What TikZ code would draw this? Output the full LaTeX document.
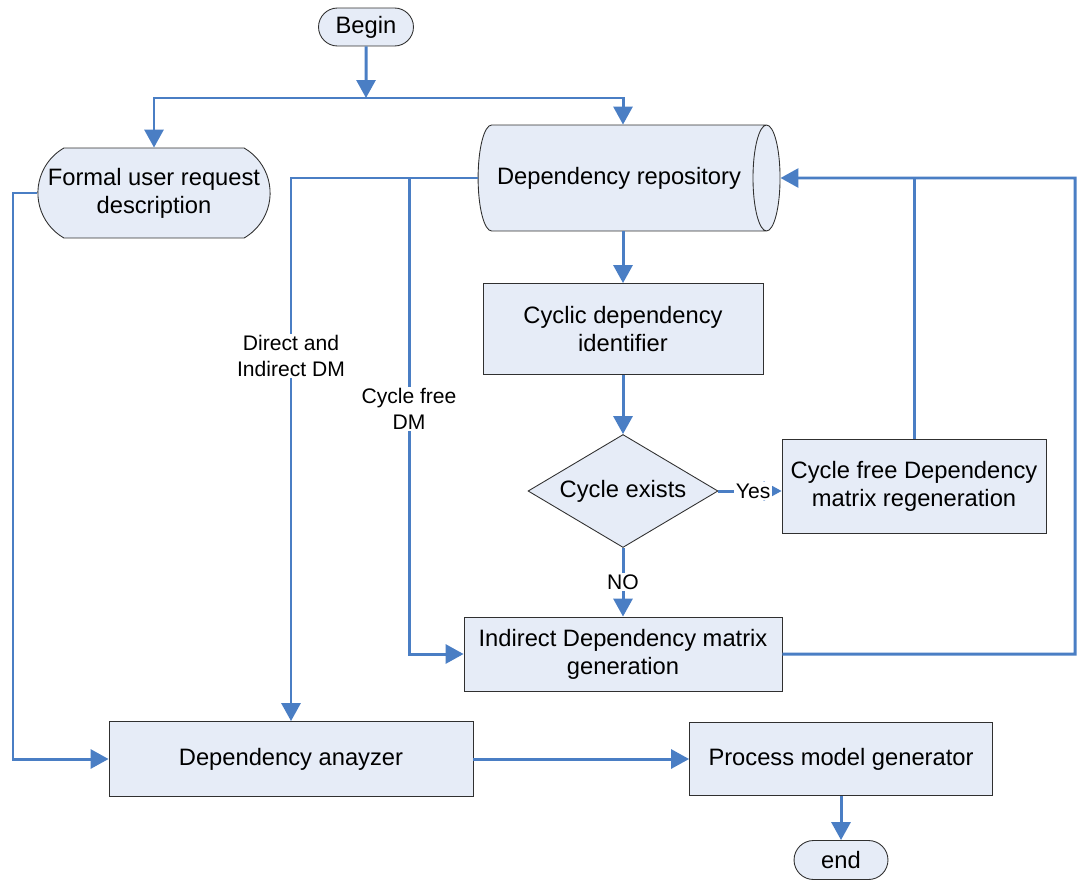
\documentclass[tikz,border=0pt]{standalone}
\usepackage{fontspec}
\setmainfont{Liberation Sans}
\usepackage{tikz}
\usetikzlibrary{arrows.meta,shapes.geometric,shapes.misc,positioning}
\definecolor{flowBlue}{HTML}{4A7EC4}
\definecolor{boxFill}{HTML}{E6ECF7}
\definecolor{boxLine}{HTML}{303030}

\begin{document}
\begin{tikzpicture}[
  x=0.02cm, y=-0.02cm,
  every node/.style={font=\fontsize{13.5}{16}\selectfont, align=center},
  proc/.style={draw=boxLine, fill=boxFill, line width=0.5pt, inner sep=2pt},
  term/.style={draw=boxLine, fill=boxFill, line width=0.5pt, rounded rectangle, inner sep=2pt},
  store/.style={draw=boxLine, fill=boxFill, line width=0.5pt, cylinder, aspect=0.8,
                minimum width=2.12cm, minimum height=6.04cm},
  decision/.style={draw=boxLine, fill=boxFill, line width=0.5pt, diamond, aspect=1.7,
                   inner sep=0pt, minimum width=3.8cm, minimum height=2.26cm},
  flow/.style={-{Triangle[length=3.6mm, width=3.8mm]}, flowBlue, line width=1.7pt},
  link/.style={flowBlue, line width=1.7pt},
  lbl/.style={fill=white, text=black, inner sep=1pt, font=\fontsize{12}{14.5}\selectfont},
]
\useasboundingbox (0,0) rectangle (1077,879);

% Nodes
\node[term, minimum width=2.04cm, minimum height=0.76cm] (start) at (366,27) {Begin};
\node[term, rounded rectangle arc length=120, minimum width=4.56cm, minimum height=1.8cm] (formal) at (154,193) {Formal user request\\description};
\node[store] (repo) at (619,178) {Dependency repository};
\node[proc, minimum width=5.6cm, minimum height=1.82cm] (cycid) at (623,329) {Cyclic dependency\\identifier};
\node[decision] (cyc) at (623,491) {Cycle exists};
\node[proc, minimum width=5.28cm, minimum height=1.88cm] (regen) at (914,486) {Cycle free Dependency\\matrix regeneration};
\node[proc, minimum width=6.36cm, minimum height=1.48cm] (indir) at (623,654) {Indirect Dependency matrix\\generation};
\node[proc, minimum width=7.28cm, minimum height=1.5cm] (anal) at (291,759) {Dependency anayzer};
\node[proc, minimum width=6.06cm, minimum height=1.46cm] (pmg) at (841,759) {Process model generator};
\node[term, minimum width=2.02cm, minimum height=0.78cm] (finish) at (841,860) {end};

% Bends
\coordinate (split) at (366,98);
\coordinate (cfbend) at (409,654);
\coordinate (lloop) at (13,480);
\coordinate (rloop) at (1075,178);

% Flows
\draw[flow] (start) -- (split);
\draw[flow] (split) -| (cycid.north |- repo.north);
\draw[flow] (split) -| (formal.north);
\draw[flow] (repo.south -| cycid.north) -- (cycid.north);
\draw[flow] (cycid.south) -- (cyc.north);
\draw[flow] (cyc.east) -- (cyc.east -| regen.west)
  node[lbl, pos=0.55] {Yes};
\draw[flow] (cyc.south) -- (indir.north)
  node[lbl, midway] {NO};
\draw[link] (regen.north) -- (regen.north |- repo.east);
\draw[flow] (indir.east) -| (rloop) -- (repo.east);
\draw[flow] (repo.west) -| (anal.north);
\draw[flow] (repo.west) -| (cfbend) -- (indir.west);
\draw[flow] (formal.west) -| (lloop) |- (anal.west);
\draw[flow] (anal.east) -- (pmg.west);
\draw[flow] (pmg.south) -- (finish.north);

% Labels on the vertical flows
\node[lbl] (lblDirect) at (291,356) {Direct and\\Indirect DM};
\node[lbl] (lblFree) at (409,409) {Cycle free\\DM};

\end{tikzpicture}
\end{document}
